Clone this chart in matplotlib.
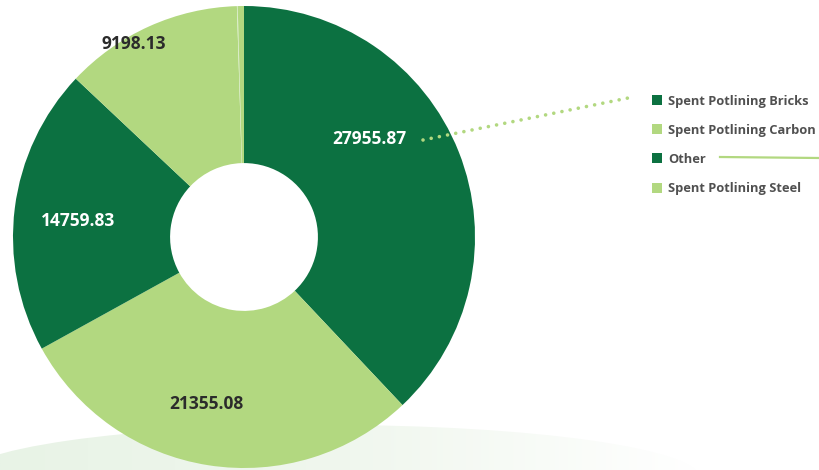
import numpy as np
import matplotlib.pyplot as plt
from matplotlib.patches import Ellipse, Patch

# slice values (clockwise from top), last two are tiny unlabeled slivers
values = [27955.87, 21355.08, 14759.83, 9198.13, 40, 320]
labels = ["Spent Potlining Bricks", "Spent Potlining Carbon", "Other", "Spent Potlining Steel"]
value_text = ["27955.87", "21355.08", "14759.83", "9198.13"]

dark = "#0c7141"
light = "#b2d880"
pale = "#d6ebc4"
colors = [dark, light, dark, light, pale, light]
text_colors = ["white", "#2b2b2b", "white", "#2b2b2b"]

# label placement tweaks: (angle offset in deg, radius fraction)
lab_off = [(16.5, 0.69), (-3.7, 0.74), (1.7, 0.72), (5.5, 0.96)]

fig = plt.figure(figsize=(8.19, 4.70), dpi=100)
ax = fig.add_axes([0, 0, 1, 1])

# faint green glow at the bottom
grad = np.linspace(0, 1, 256).reshape(1, -1)
cmap = plt.matplotlib.colors.LinearSegmentedColormap.from_list("g", ["#e8f3e6", "#f0f7ee", "#ffffff"])
im = ax.imshow(grad, extent=[0, 700, 0, 50], cmap=cmap, aspect="auto", zorder=0)
ell = Ellipse((330, -8), 740, 106, transform=ax.transData, facecolor="none", edgecolor="none")
ax.add_patch(ell)
im.set_clip_path(ell)

cx, cy, R = 244, 233, 231
wedges, _ = ax.pie(values, colors=colors, startangle=90, counterclock=False,
                   center=(cx, cy), radius=R, wedgeprops=dict(width=R * 0.68, linewidth=0),
                   frame=True)
ax.set_xlim(0, 819)
ax.set_ylim(0, 470)
ax.axis("off")

for w, txt, tc, (da, rf) in zip(wedges, value_text, text_colors, lab_off):
    mid = np.deg2rad((w.theta1 + w.theta2) / 2 + da)
    ax.text(cx + rf * R * np.cos(mid), cy + rf * R * np.sin(mid), txt,
            ha="center", va="center", fontsize=12.5, fontweight="bold",
            family="Open Sans", color=tc, zorder=5)

# dotted leader from the first label to the legend
ax.plot([423, 633], [330, 373], linestyle=(0, (0.01, 2.3)), lw=2.6,
        color=light, dash_capstyle="round", zorder=4)
# solid line beside "Other"
ax.plot([720, 819], [313, 312], color=light, lw=1.6, zorder=4)

handles = [Patch(facecolor=c, edgecolor="none") for c in colors[:4]]
leg = ax.legend(handles, labels, loc="upper left", bbox_to_anchor=(640 / 819, 387 / 470),
                frameon=False, handlelength=0.8, handleheight=0.8, handletextpad=0.45,
                labelspacing=1.25, prop=dict(family="Open Sans", weight="bold", size=9.3))
for t in leg.get_texts():
    t.set_color("#505050")

fig.savefig("out.png", dpi=100)
